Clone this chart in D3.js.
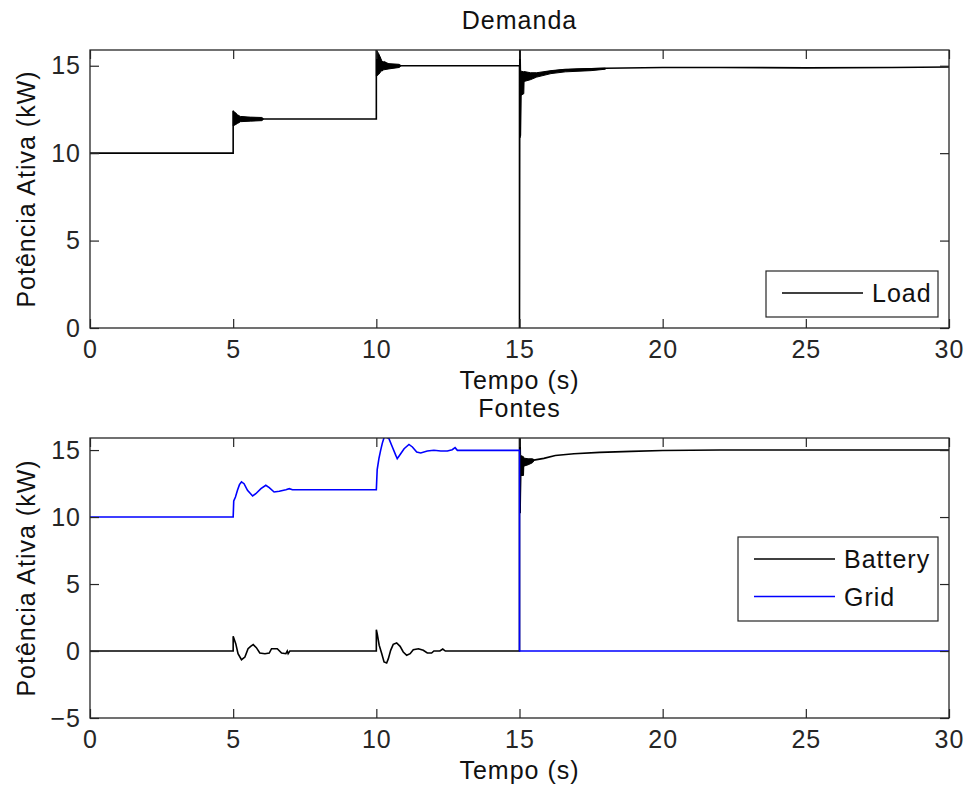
<!DOCTYPE html>
<html>
<head>
<meta charset="utf-8">
<script src="https://cdn.jsdelivr.net/npm/d3@7"></script>
<style>
  html, body { margin: 0; padding: 0; background: #fff; }
  svg { display: block; }
</style>
</head>
<body>
<svg id="chart" width="965" height="792"></svg>
<script>
// ---- Axes ticks ----
const xTicks = [0, 5, 10, 15, 20, 25, 30];
const yTicksTop = [0, 5, 10, 15];
const yTicksBottom = [-5, 0, 5, 10, 15];

// ---- Demanda: load power [t (s), P (kW)] ----
const loadSeries = [
  [0, 10], [5, 10], [5, 12.42], [5.04, 11.7], [5.1, 12.2], [5.2, 11.8], [5.3, 12.05],
  [6, 11.95], [10, 11.95], [10, 15.9], [10.05, 14.6], [10.12, 15.5], [10.2, 14.7],
  [10.3, 15.2], [10.5, 14.9], [10.8, 15.0], [15, 15.0], [15, 0], [15.01, 15.9],
  [15.03, 11.0], [15.06, 14.5], [15.1, 13.6], [15.15, 14.3], [15.3, 14.4], [15.6, 14.5],
  [16, 14.65], [16.4, 14.74], [17, 14.8], [18, 14.86], [20, 14.9], [22, 14.9],
  [25, 14.88], [28, 14.9], [30, 14.93]
];

// Oscillation envelopes of the load [t, min, max]
const loadBand5 = [
  [5.0, 11.55, 12.42], [5.05, 11.6, 12.35], [5.15, 11.7, 12.2], [5.25, 11.8, 12.1],
  [5.6, 11.83, 12.06], [6.0, 11.86, 12.04], [6.05, 11.92, 11.98]
];
const loadBand10 = [
  [10.0, 14.4, 15.9], [10.08, 14.5, 15.7], [10.2, 14.75, 15.25], [10.44, 14.82, 15.12],
  [10.8, 14.9, 15.08], [10.85, 14.97, 15.03]
];
const loadBand15 = [
  [15.0, 10.9, 15.9], [15.03, 10.9, 15.9], [15.04, 13.3, 14.7], [15.15, 13.4, 14.65],
  [15.16, 14.1, 14.67], [15.38, 14.2, 14.6], [15.6, 14.35, 14.6], [16.1, 14.55, 14.72],
  [16.6, 14.65, 14.8], [17.5, 14.72, 14.84], [18.0, 14.8, 14.86]
];

// ---- Fontes: battery and grid power [t (s), P (kW)] ----
const batterySeries = [
  [0, 0], [5, 0], [5.0, 1.1], [5.09, 0.55], [5.17, -0.2], [5.29, -0.65], [5.41, -0.45],
  [5.52, 0.17], [5.61, 0.35], [5.70, 0.48], [5.81, 0.25], [5.93, -0.15], [6.11, -0.2],
  [6.26, -0.15], [6.34, 0.17], [6.54, 0.17], [6.69, -0.15], [6.84, -0.2], [6.89, 0],
  [6.92, -0.2], [6.98, 0], [10, 0], [10.0, 1.59], [10.03, 1.3], [10.1, 0.43],
  [10.19, -0.2], [10.27, -0.82], [10.36, -0.89], [10.42, -0.57], [10.5, 0.05],
  [10.59, 0.5], [10.71, 0.6], [10.83, 0.35], [10.94, -0.07], [11.06, -0.32],
  [11.18, -0.2], [11.29, 0.1], [11.47, 0.17], [11.64, 0.05], [11.78, -0.15],
  [11.93, -0.15], [12.01, 0], [12.22, 0], [12.32, 0.15], [12.41, 0], [15, 0],
  [15, 15.9], [15.02, 10.3], [15.05, 14.5], [15.1, 13.2], [15.15, 14.1], [15.25, 14.1],
  [15.5, 14.25], [15.85, 14.38], [16.25, 14.6], [16.9, 14.73], [17.8, 14.83],
  [18.9, 14.9], [20, 14.97], [22, 15], [30, 15]
];
const batteryBand15 = [
  [15.0, 10.3, 15.9], [15.03, 10.3, 15.9], [15.04, 13.1, 14.6], [15.14, 13.1, 14.5],
  [15.15, 13.8, 14.4], [15.3, 13.9, 14.35], [15.45, 14.05, 14.35], [15.5, 14.18, 14.3]
];
const gridSeries = [
  [0, 10], [5, 10], [5.02, 11.2], [5.08, 11.5], [5.15, 12.0], [5.22, 12.42], [5.29, 12.62],
  [5.38, 12.49], [5.5, 12.0], [5.68, 11.57], [5.79, 11.74], [5.97, 12.12], [6.14, 12.37],
  [6.26, 12.2], [6.43, 11.87], [6.61, 11.92], [6.84, 12.04], [6.96, 12.12], [7.07, 12.04],
  [10, 12.04], [10.03, 13.54], [10.09, 14.36], [10.15, 14.98], [10.21, 15.52],
  [10.27, 15.93], [10.34, 15.97], [10.44, 15.85], [10.56, 15.23], [10.68, 14.6],
  [10.73, 14.36], [10.85, 14.73], [10.97, 15.1], [11.14, 15.42], [11.26, 15.23],
  [11.41, 14.85], [11.55, 14.78], [11.78, 14.93], [12.01, 14.98], [12.25, 14.93],
  [12.48, 14.93], [12.65, 15.03], [12.75, 15.18], [12.83, 14.98], [15, 14.98],
  [15, 0], [30, 0]
];

const BLACK = "#000000";
const BLUE = "#0000ff";
const AXIS = "#262626";
const FONT = 25;
const FAMILY = "'Liberation Sans Narrow', 'Liberation Sans', Arial, sans-serif";
const SPACING = "1px";

const svg = d3.select("#chart")
  .attr("font-family", FAMILY)
  .style("letter-spacing", SPACING);

function panel(cfg) {
  const { id, left, right, top, bottom, yDomain, yTicks, title, series, bands, legend } = cfg;
  const x = d3.scaleLinear().domain([0, 30]).range([left, right]);
  const y = d3.scaleLinear().domain(yDomain).range([bottom, top]);
  const g = svg.append("g");

  g.append("rect").attr("x", left).attr("y", top)
    .attr("width", right - left).attr("height", bottom - top).attr("fill", "#fff");

  const clipId = "clip-" + id;
  svg.append("clipPath").attr("id", clipId).append("rect")
    .attr("x", left).attr("y", top).attr("width", right - left).attr("height", bottom - top);

  const plot = g.append("g").attr("clip-path", `url(#${clipId})`);

  const area = d3.area().x(d => x(d[0])).y0(d => y(d[1])).y1(d => y(d[2]));
  bands.forEach(b => {
    plot.append("path").datum(b.data).attr("d", area)
      .attr("fill", b.color).attr("stroke", b.color).attr("stroke-width", 1);
  });

  const line = d3.line().x(d => x(d[0])).y(d => y(d[1]));
  series.forEach(s => {
    plot.append("path").datum(s.data).attr("d", line)
      .attr("fill", "none").attr("stroke", s.color).attr("stroke-width", 1.6)
      .attr("stroke-linejoin", "miter");
  });

  // Boxed axes with inward ticks on all four sides
  const tickLen = 9;
  const axStyle = sel => {
    sel.select(".domain").remove();
    sel.selectAll(".tick line").attr("stroke", AXIS).attr("stroke-width", 1.2);
    sel.selectAll(".tick text").attr("fill", AXIS).attr("font-size", FONT)
      .attr("font-family", FAMILY);
  };
  g.append("g").attr("transform", `translate(0,${bottom})`)
    .call(d3.axisBottom(x).tickValues(xTicks).tickSizeInner(-tickLen).tickSizeOuter(0).tickPadding(12))
    .call(axStyle);
  g.append("g").attr("transform", `translate(0,${top})`)
    .call(d3.axisTop(x).tickValues(xTicks).tickSizeInner(-tickLen).tickSizeOuter(0).tickFormat(""))
    .call(axStyle);
  g.append("g").attr("transform", `translate(${left},0)`)
    .call(d3.axisLeft(y).tickValues(yTicks).tickSizeInner(-tickLen).tickSizeOuter(0).tickPadding(9))
    .call(axStyle);
  g.append("g").attr("transform", `translate(${right},0)`)
    .call(d3.axisRight(y).tickValues(yTicks).tickSizeInner(-tickLen).tickSizeOuter(0).tickFormat(""))
    .call(axStyle);

  g.append("rect").attr("x", left).attr("y", top)
    .attr("width", right - left).attr("height", bottom - top)
    .attr("fill", "none").attr("stroke", AXIS).attr("stroke-width", 1.3);

  const cx = (left + right) / 2;
  g.append("text").attr("x", cx).attr("y", top - 21).attr("text-anchor", "middle")
    .attr("font-size", FONT).attr("fill", "#111").text(title);
  g.append("text").attr("x", cx).attr("y", bottom + 61).attr("text-anchor", "middle")
    .attr("font-size", FONT).attr("fill", "#111").text("Tempo (s)");
  g.append("text")
    .attr("transform", `translate(35,${(top + bottom) / 2}) rotate(-90)`)
    .attr("text-anchor", "middle").attr("font-size", FONT).attr("fill", "#111")
    .text("Potência Ativa (kW)");

  // Legend
  const lg = g.append("g");
  lg.append("rect").attr("x", legend.x).attr("y", legend.y)
    .attr("width", legend.w).attr("height", legend.h)
    .attr("fill", "#fff").attr("stroke", AXIS).attr("stroke-width", 1.2);
  legend.items.forEach((it, i) => {
    const ly = legend.y + legend.first + i * 37.5;
    lg.append("line").attr("x1", legend.x + 16).attr("x2", legend.x + 97)
      .attr("y1", ly).attr("y2", ly).attr("stroke", it.color).attr("stroke-width", 1.6);
    lg.append("text").attr("x", legend.x + 106).attr("y", ly + 9)
      .attr("font-size", FONT).attr("fill", "#111").text(it.label);
  });
}

panel({
  id: "demanda", left: 90, right: 949, top: 50, bottom: 328,
  yDomain: [0, 15.9], yTicks: yTicksTop, title: "Demanda",
  series: [{ data: loadSeries, color: BLACK }],
  bands: [
    { data: loadBand5, color: BLACK },
    { data: loadBand10, color: BLACK },
    { data: loadBand15, color: BLACK }
  ],
  legend: { x: 766, y: 271, w: 172, h: 46, first: 22,
    items: [{ label: "Load", color: BLACK }] }
});

panel({
  id: "fontes", left: 90, right: 949, top: 438, bottom: 718,
  yDomain: [-5, 15.9], yTicks: yTicksBottom, title: "Fontes",
  series: [
    { data: batterySeries, color: BLACK },
    { data: gridSeries, color: BLUE }
  ],
  bands: [{ data: batteryBand15, color: BLACK }],
  legend: { x: 738, y: 537, w: 200, h: 84, first: 22,
    items: [{ label: "Battery", color: BLACK }, { label: "Grid", color: BLUE }] }
});
</script>
</body>
</html>
